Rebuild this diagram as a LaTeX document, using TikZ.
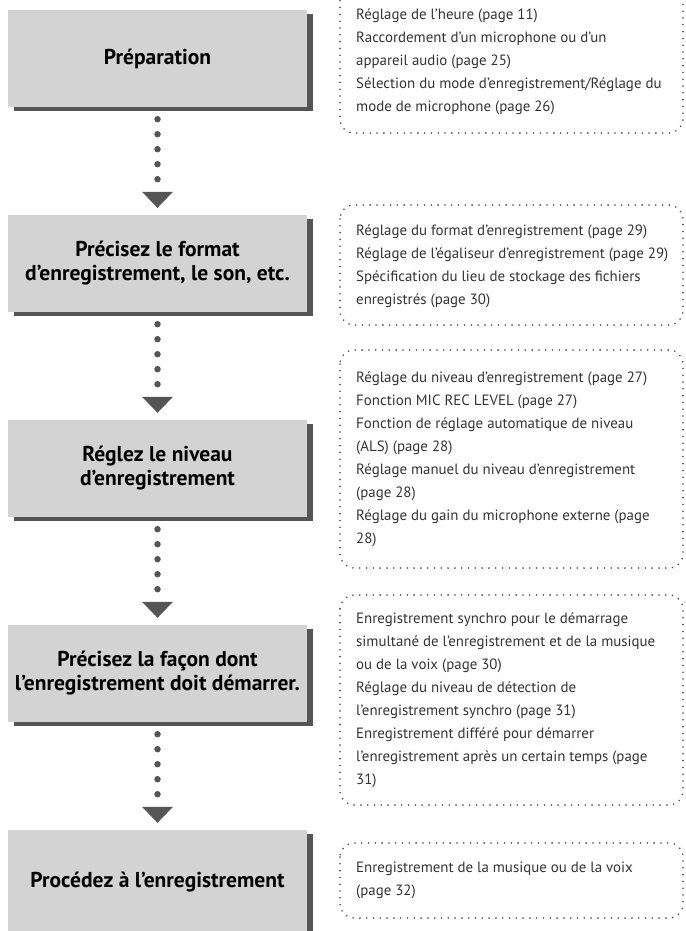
\documentclass[tikz,border=0pt]{standalone}
\usepackage{fontspec}
\setmainfont{PT Sans}
\usetikzlibrary{shadows}
\definecolor{boxgray}{HTML}{D3D3D3}
\definecolor{shadowgray}{HTML}{555555}
\definecolor{dotgray}{HTML}{4A4A4A}
\definecolor{txtgray}{HTML}{333333}
\begin{document}
\begin{tikzpicture}[x=1pt,y=-1pt,
  stepbox/.style={fill=boxgray, minimum width=299pt, minimum height=97pt, inner sep=0pt, align=center,
    font=\fontsize{21.5}{24}\selectfont\bfseries,
    drop shadow={shadow xshift=6pt, shadow yshift=-4pt, fill=shadowgray, opacity=1}},
  dotline/.style={draw=shadowgray, line width=6.5pt, line cap=round, dash pattern=on 0pt off 15pt},
  arrowtri/.style={fill=shadowgray},
  frame/.style={draw=dotgray, line width=1.8pt, line cap=round, dash pattern=on 0pt off 6.8pt, rounded corners=14pt},
  info/.style={anchor=west, align=left, inner sep=0pt, text=txtgray, font=\fontsize{14.9}{23}\selectfont}
]
\useasboundingbox (0,0) rectangle (685,931);

% step boxes
\node[stepbox] (b1) at (157.5,58.5) {Préparation};
\node[stepbox] (b2) at (157.5,263.5) {Précisez le format\\d’enregistrement, le son, etc.};
\node[stepbox] (b3) at (157.5,468.5) {Réglez le niveau\\d’enregistrement};
\node[stepbox] (b4) at (157.5,673.5) {Précisez la façon dont\\l’enregistrement doit démarrer.};
\node[stepbox, minimum height=104pt] (b5) at (157.5,882) {Procédez à l’enregistrement};

% connectors
\foreach \a/\b in {b1/b2,b2/b3,b3/b4,b4/b5}{
  \draw[dotline] ([yshift=-12pt]\a.south) -- ([yshift=33pt]\b.north);
  \fill[arrowtri] ([xshift=-15.5pt,yshift=23pt]\b.north) -- ([xshift=15.5pt,yshift=23pt]\b.north) -- ([yshift=7pt]\b.north) -- cycle;
}

% dotted frames
\draw[frame] (340,-20) rectangle (683,133);
\draw[frame] (340,205) rectangle (683,325);
\draw[frame] (340,350) rectangle (683,568);
\draw[frame] (340,595) rectangle (683,805);
\draw[frame] (340,843) rectangle (683,918);

% frame texts
\node[info] (t1) at (356,62) {Réglage de l’heure (page 11)\\Raccordement d’un microphone ou d’un\\appareil audio (page 25)\\Sélection du mode d’enregistrement/Réglage du\\mode de microphone (page 26)};
\node[info] (t2) at (356,266) {Réglage du format d’enregistrement (page 29)\\Réglage de l’égaliseur d’enregistrement (page 29)\\Spécification du lieu de stockage des fichiers\\enregistrés (page 30)};
\node[info] (t3) at (356,459) {Réglage du niveau d’enregistrement (page 27)\\Fonction MIC REC LEVEL (page 27)\\Fonction de réglage automatique de niveau\\(ALS) (page 28)\\Réglage manuel du niveau d’enregistrement\\(page 28)\\Réglage du gain du microphone externe (page\\28)};
\node[info] (t4) at (356,700) {Enregistrement synchro pour le démarrage\\simultané de l’enregistrement et de la musique\\ou de la voix (page 30)\\Réglage du niveau de détection de\\l’enregistrement synchro (page 31)\\Enregistrement différé pour démarrer\\l’enregistrement après un certain temps (page\\31)};
\node[info] (t5) at (356,880.5) {Enregistrement de la musique ou de la voix\\(page 32)};
\end{tikzpicture}
\end{document}
